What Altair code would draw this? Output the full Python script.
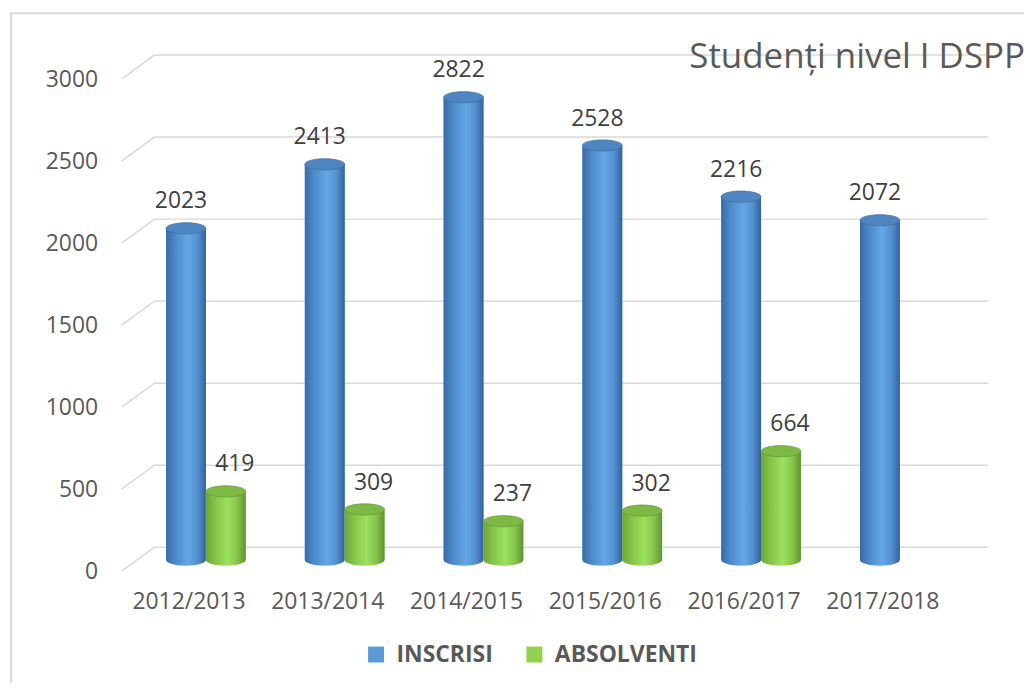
import altair as alt
import pandas as pd

# ---------------- data ----------------
years = ["2012/2013", "2013/2014", "2014/2015", "2015/2016", "2016/2017", "2017/2018"]
inscrisi = [2023, 2413, 2822, 2528, 2216, 2072]
absolventi_years = ["2012/2013", "2013/2014", "2014/2015", "2015/2016", "2016/2017"]
absolventi = [419, 309, 237, 302, 664]
series_names = ["INSCRISI", "ABSOLVENTI"]
y_ticks = [0, 500, 1000, 1500, 2000, 2500, 3000]
title_text = "Studenți nivel I DSPP"

# ---------------- style / layout constants ----------------
FONT = "Open Sans"
series_colors = ["#5B9BD5", "#92D050"]
GRID = "#D9D9D9"
W, H = 836, 494
# 3-D wall: front edge, back-left corner, back-right end (in category-index units)
wall_x = [-0.486, -0.249, 5.758]
wall_lift = [0, 146, 146]  # back wall raised (value units)

ELLIPSE = ("M-1,0C-1,-0.155,-0.552,-0.28,0,-0.28C0.552,-0.28,1,-0.155,1,0"
           "C1,0.155,0.552,0.28,0,0.28C-0.552,0.28,-1,0.155,-1,0Z")


def grad(stops):
    return alt.LinearGradient(
        gradient="linear", x1=0, x2=1, y1=0, y2=0,
        stops=[alt.GradientStop(offset=o, color=c) for o, c in stops])


blue_grad = grad([(0, "#3A6CA3"), (0.2, "#4A86C6"), (0.55, "#64A7E6"),
                  (0.8, "#5290CF"), (1, "#35629A")])
green_grad = grad([(0, "#6DA53A"), (0.25, "#86C64B"), (0.55, "#9DE15F"),
                   (0.8, "#84C249"), (1, "#5E9330")])

# ---------------- tables ----------------
df_in = pd.DataFrame({"year": years, "value": inscrisi, "series": series_names[0]})
df_ab = pd.DataFrame({"year": absolventi_years, "value": absolventi, "series": series_names[1]})
df_grid = pd.DataFrame([
    {"tick": t, "order": i, "gx": wall_x[i], "gy": t + wall_lift[i]}
    for t in y_ticks for i in range(len(wall_x))
])
df_one = pd.DataFrame({"t": [title_text]})

# ---------------- scales ----------------
x_band = alt.Scale(domain=years, paddingInner=0, paddingOuter=0)
y_bar = alt.Scale(domain=[-67, 2933], nice=False, zero=False)
y_lab = alt.Scale(domain=[0, 3000], nice=False, zero=False)
x_grid = alt.Scale(domain=[-0.5, 5.5], nice=False, zero=False)

color_scale = alt.Scale(domain=series_names, range=series_colors)
legend = alt.Legend(
    orient="none", legendX=246, legendY=566, direction="horizontal", title=None,
    symbolType="square", symbolSize=256, symbolStrokeWidth=0,
    labelFont=FONT, labelFontSize=23, labelFontWeight="bold", labelColor="#595959",
    labelOffset=9, columnPadding=30, padding=0)

x_axis = alt.Axis(title=None, domain=False, ticks=False, grid=False, labelAngle=0,
                  labelFont=FONT, labelFontSize=23, labelColor="#595959", labelPadding=20)
y_axis = alt.Axis(title=None, domain=False, ticks=False, grid=False, values=y_ticks,
                  format="d", labelFont=FONT, labelFontSize=23, labelColor="#595959",
                  labelPadding=22)

# ---------------- layers ----------------
frame = alt.Chart(df_one).mark_rect(fillOpacity=0, stroke=GRID, strokeWidth=2).encode(
    x=alt.value(-109), x2=alt.value(1000), y=alt.value(-66), y2=alt.value(700))

grid = alt.Chart(df_grid).mark_line(color=GRID, strokeWidth=1.5).encode(
    x=alt.X("gx:Q", scale=x_grid, axis=None),
    y=alt.Y("gy:Q", scale=y_lab, axis=y_axis),
    detail="tick:N",
    order="order:Q")

title = alt.Chart(df_one).mark_text(
    font=FONT, fontSize=35, color="#595959", align="left", baseline="alphabetic"
).encode(text="t:N", x=alt.value(572), y=alt.value(-11))


def cylinder(df, offset, body, top, top_stroke, label_off, with_axis):
    xenc = alt.X("year:N", scale=x_band, sort=years, axis=x_axis if with_axis else None)
    xenc_na = alt.X("year:N", scale=x_band, sort=years, axis=None)
    base = alt.Chart(df)
    bottom = base.transform_calculate(zero="0").mark_point(
        shape=ELLIPSE, size=1600, filled=True, color=body,
        opacity=1, strokeWidth=0, xOffset=offset).encode(
        x=xenc_na, y=alt.Y("zero:Q", scale=y_bar, axis=None))
    flat = base.mark_bar(width=40, xOffset=offset).encode(
        x=xenc,
        y=alt.Y("value:Q", scale=y_bar, axis=None),
        y2=alt.datum(0),
        color=alt.Color("series:N", scale=color_scale, legend=legend))
    shade = base.mark_bar(width=40, xOffset=offset, color=body).encode(
        x=xenc_na,
        y=alt.Y("value:Q", scale=y_bar, axis=None),
        y2=alt.datum(0))
    cap = base.mark_point(shape=ELLIPSE, size=1600, filled=True, color=top, opacity=1,
                          stroke=top_stroke, strokeWidth=0.8, xOffset=offset).encode(
        x=xenc_na, y=alt.Y("value:Q", scale=y_bar, axis=None))
    labels = base.mark_text(font=FONT, fontSize=23, color="#404040", baseline="middle",
                            xOffset=label_off, dy=-27).encode(
        x=xenc_na, y=alt.Y("value:Q", scale=y_bar, axis=None), text="value:Q")
    return [bottom, flat, shade, cap, labels]


layers = [frame, grid, title]
layers += cylinder(df_in, -3, blue_grad, "#4F86C2", "#41719F", -8, True)
layers += cylinder(df_ab, 37, green_grad, "#7DB944", "#6A9E38", 46, False)

chart = alt.layer(*layers).resolve_scale(
    x="independent", y="independent"
).properties(
    width=W, height=H,
    autosize=alt.AutoSizeParams(type="none"),
    padding={"left": 112, "top": 70, "right": 72, "bottom": 111},
    background="white",
).configure_view(strokeWidth=0)

chart.save("out.html", embed_options={"renderer": "svg", "actions": False})
